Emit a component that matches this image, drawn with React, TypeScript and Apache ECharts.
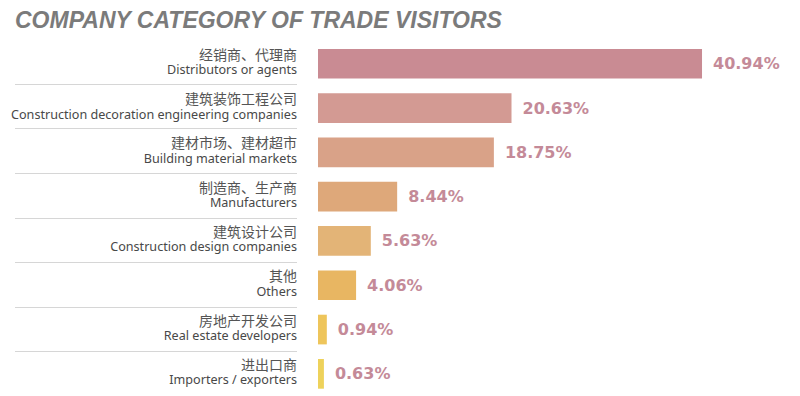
import React, { useEffect, useRef } from "react";
import * as echarts from "echarts";

const titleText = "COMPANY CATEGORY OF TRADE VISITORS";
const categoriesCn = [
  "经销商、代理商",
  "建筑装饰工程公司",
  "建材市场、建材超市",
  "制造商、生产商",
  "建筑设计公司",
  "其他",
  "房地产开发公司",
  "进出口商",
];
const categoriesEn = [
  "Distributors or agents",
  "Construction decoration engineering companies",
  "Building material markets",
  "Manufacturers",
  "Construction design companies",
  "Others",
  "Real estate developers",
  "Importers / exporters",
];
const values = [40.94, 20.63, 18.75, 8.44, 5.63, 4.06, 0.94, 0.63];
const barColors = [
  "#c98b93",
  "#d39a93",
  "#d9a288",
  "#dea87a",
  "#e3b477",
  "#e8b662",
  "#eec55b",
  "#eed25b",
];

export default function App() {
  const ref = useRef<HTMLDivElement>(null);
  useEffect(() => {
    if (!ref.current) return;
    const chart = echarts.init(ref.current, undefined, { renderer: "svg" });
    const labels = categoriesCn.map((cn, i) => `${cn}\n${categoriesEn[i]}`);
    const gridTop = 41.6;
    const gridHeight = 358.9;
    chart.setOption({
      animation: false,
      backgroundColor: "#ffffff",
      title: {
        text: titleText,
        left: 10,
        top: 3,
        textStyle: {
          fontFamily: "Liberation Sans, Arial, sans-serif",
          fontSize: 23,
          fontWeight: "bold",
          fontStyle: "italic",
          color: "#7b7b7b",
        },
      },
      grid: [
        { left: 318, top: gridTop, width: 469, height: gridHeight },
        { left: 15, top: gridTop - 2, width: 282, height: gridHeight },
      ],
      xAxis: [
        { type: "value", gridIndex: 0, min: 0, max: 50, show: false },
        { type: "value", gridIndex: 1, min: 0, max: 1, show: false },
      ],
      yAxis: [
        {
          type: "category",
          gridIndex: 0,
          inverse: true,
          data: labels,
          axisLine: { show: false },
          axisTick: { show: false },
          splitLine: { show: false },
          axisLabel: {
            margin: 21,
            align: "right",
            padding: [0, 0, 4, 0],
            formatter: (v: string) => {
              const [cn, en] = v.split("\n");
              return `{cn|${cn}}\n{en|${en}}`;
            },
            rich: {
              cn: {
                fontFamily: "Noto Sans CJK SC, sans-serif",
                fontSize: 14,
                color: "#555555",
                lineHeight: 16,
                align: "right",
              },
              en: {
                fontFamily: "Noto Sans, sans-serif",
                fontSize: 12.6,
                color: "#484848",
                lineHeight: 16,
                align: "right",
              },
            },
          },
        },
        {
          type: "category",
          gridIndex: 1,
          inverse: true,
          data: labels,
          axisLine: { show: false },
          axisTick: { show: false },
          axisLabel: { show: false },
          splitLine: {
            show: true,
            showMinLine: false,
            showMaxLine: false,
            lineStyle: { color: "#d6d6d6", width: 1 },
          },
        },
      ],
      series: [
        {
          type: "bar",
          xAxisIndex: 0,
          yAxisIndex: 0,
          data: values.map((v, i) => ({ value: v, itemStyle: { color: barColors[i] } })),
          barCategoryGap: "33%",
          label: {
            show: true,
            position: "right",
            distance: 11,
            formatter: (p: any) => `${p.value.toFixed(2)}%`,
            fontFamily: "DejaVu Sans, sans-serif",
            fontWeight: "bold",
            fontSize: 16,
            color: "#c48a98",
          },
        },
      ],
    });
    return () => chart.dispose();
  }, []);
  return (
    <div
      ref={ref}
      style={{ position: "fixed", left: 0, top: 0, width: 800, height: 396 }}
    />
  );
}
